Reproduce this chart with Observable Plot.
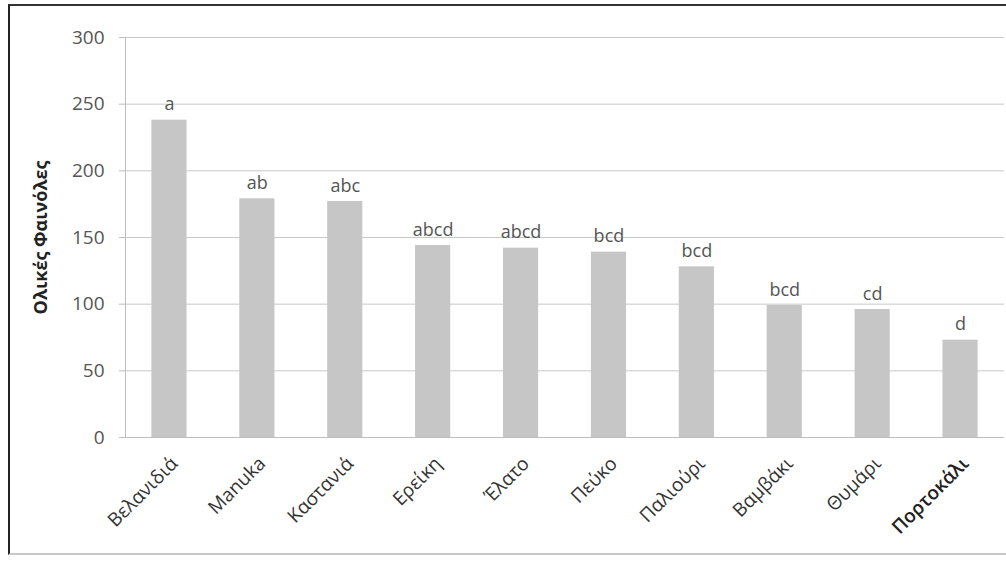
<!DOCTYPE html>
<html>
<head>
<meta charset="utf-8">
<script src="https://cdn.jsdelivr.net/npm/d3@7"></script>
<script src="https://cdn.jsdelivr.net/npm/@observablehq/plot@0.6"></script>
<style>
  html, body { margin: 0; padding: 0; background: #fff; }
  #wrap { position: relative; width: 1006px; height: 561px; overflow: hidden; }
  #border { position: absolute; left: 8px; top: 4px; width: 1010px; height: 551px;
            border-left: 2px solid #222; border-top: 2px solid #333; border-bottom: 2px solid #c8c8c8; box-sizing: border-box; pointer-events: none; }
  #chart { position: absolute; left: 0; top: 0; }
  svg [aria-label="x-axis tick label"] text:last-child { font-weight: 600; fill: #222; }
</style>
</head>
<body>
<div id="wrap">
  <div id="chart"></div>
  <div id="border"></div>
</div>
<script>
const categories = ["Βελανιδιά", "Manuka", "Καστανιά", "Ερείκη", "Έλατο", "Πεύκο", "Παλιούρι", "Βαμβάκι", "Θυμάρι", "Πορτοκάλι"];
const values = [238, 179, 177, 144, 142, 139, 128, 99, 96, 73];
const letters = ["a", "ab", "abc", "abcd", "abcd", "bcd", "bcd", "bcd", "cd", "d"];
const yTicks = [0, 50, 100, 150, 200, 250, 300];
const yTitle = "Ολικές Φαινόλες";

const data = categories.map((c, i) => ({name: c, value: values[i], letter: letters[i]}));

const chart = Plot.plot({
  width: 1006,
  height: 561,
  marginLeft: 125,
  marginRight: 2,
  marginTop: 37,
  marginBottom: 124,
  style: {fontFamily: "'Open Sans', sans-serif", background: "transparent"},
  x: {domain: categories, paddingInner: 0.6, paddingOuter: 0.3, round: false, label: null},
  y: {domain: [0, 300], label: null},
  marks: [
    Plot.gridY(yTicks, {stroke: "#c8c8c8", strokeOpacity: 1, strokeWidth: 1}),
    Plot.barY(data, {x: "name", y: "value", fill: "#c6c6c6"}),
    Plot.text(data, {x: "name", y: "value", text: "letter", lineAnchor: "bottom", dy: -10, fontSize: 18, fill: "#555"}),
    Plot.frame({anchor: "left", stroke: "#bdbdbd"}),
    Plot.ruleY([0], {stroke: "#bdbdbd"}),
    Plot.axisY({ticks: yTicks, tickSize: 6, tickPadding: 15, fontSize: 19, color: "#555", stroke: "#bdbdbd", label: null}),
    Plot.axisX({tickSize: 0, tickRotate: -45, tickPadding: 23, dx: 5, fontSize: 19, color: "#333", label: null}),
    Plot.text([yTitle], {frameAnchor: "left", rotate: -90, dx: -84, textAnchor: "middle", fontSize: 18, fontWeight: "bold", fill: "#222"})
  ]
});
document.getElementById("chart").appendChild(chart);
</script>
</body>
</html>
